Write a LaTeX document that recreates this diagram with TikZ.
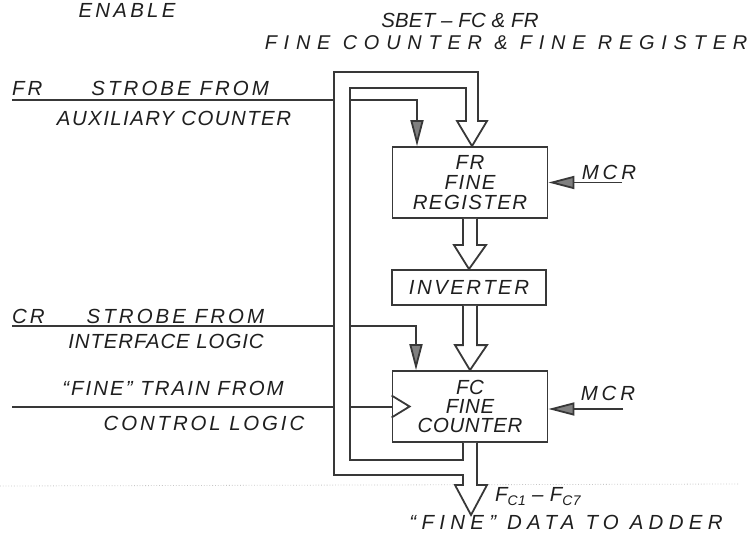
\documentclass[tikz,border=0pt]{standalone}
\usepackage{fontspec}
\setmainfont{Liberation Sans}
\usetikzlibrary{arrows.meta,calc}
\newcommand{\lowsub}[1]{{\fontsize{14}{14}\selectfont\raisebox{-4bp}{#1}}}
\newcommand{\hw}[1]{\itshape\fontsize{20.5}{22}\selectfont\addfontfeature{LetterSpace=#1}}
\tikzset{
  x=1bp, y=-1bp,
  ink/.style={draw=black!78, line width=1.8bp},
  box/.style={ink, fill=white, minimum width=155bp, minimum height=71bp, inner sep=0pt, align=center,
              font={\hw{7}\fontsize{20.5}{20}\selectfont}, text=black!88},
  sig/.style={ink, -{Triangle[width=13bp,length=26bp,fill=black!50]}},
  bus/.style={ink, fill=white},
  lbl/.style={text=black!88, font={\hw{12}}, inner sep=0pt},
}
\begin{document}
\begin{tikzpicture}
\fill[white] (0,0) rectangle (752,542);
\useasboundingbox (0,0) rectangle (752,542);

% boxes
\node[box] (fr) at (470,182.5) {FR\\FINE\\REGISTER};
\node[box, minimum width=154bp, minimum height=35bp, font={\hw{12}}] (inv) at (469,287.5) {INVERTER};
\node[box, font={\hw{3}\fontsize{20.5}{19.5}\selectfont}] (fc) at (470,406.5) {FC\\FINE\\COUNTER};

% free ends
\coordinate (frs) at (12,100);
\coordinate (crs) at (12,326);
\coordinate (trs) at (12,407);
\coordinate (m1) at (622,182.5);
\coordinate (m2) at (623,409);
\coordinate (adder) at (471,515);

% faint scan line
\draw[black!22, dotted, line width=0.8bp] (0,486) -- (740,484);

% strobes and train
\draw[sig] (frs) -| ($(fr.north)+(-53,0)$);
\draw[sig] (crs) -| ($(fc.north)+(-54,0)$);
\draw[ink] (trs) -- (trs -| fc.west);
\draw[ink] ($(fc.west)+(0,-11)$) -- ($(fc.west)+(18,0)$) -- ($(fc.west)+(0,11)$);

% MCR
\draw[sig] (m1) -- (m1 -| fr.east);
\draw[sig] (m2) -- (m2 -| fc.east);

% hollow arrows
\draw[bus] ($(fr.south)+(-7,0)$) |- ($(inv.north)+(-15,-24)$) -- (inv.north) -- ($(inv.north)+(17,-24)$) -| ($(fr.south)+(7,0)$);
\draw[bus] ($(inv.south)+(-6,0)$) |- ($(fc.north)+(-15,-25)$) -- (fc.north) -- ($(fc.north)+(17,-25)$) -| ($(inv.south)+(8,0)$);

% feedback / output channel
\draw[bus] ($(fc.south)+(-7,0)$) -- (463,460) -- (350,460) -- (350,88) -- (466,88) -- (466,121)
  -- (457,121) -- ($(fr.north)+(2,0)$) -- (487,121) -- (478,121) -- (478,72) -- (334,72)
  -- (334,475) -- (463,475) -- (463,485) -- (455,485) -- (adder) -- (487,485) -- (477,485)
  -- ($(fc.south)+(7,0)$);

% labels
\node[lbl, font={\hw{16}}] (en) at (127,10) {ENABLE};
\node[lbl, font={\hw{1}}] (t1) at (460,20) {SBET – FC \& FR};
\node[lbl, font={\hw{34}\fontsize{20}{22}\selectfont}] (t2) at (506,43) {FINE COUNTER \& FINE REGISTER};
\node[lbl, anchor=west, font={\hw{15}}] (l1) at (12,88) {FR\hspace{49bp}STROBE FROM};
\node[lbl, font={\hw{7}}] (l2) at (174,118) {AUXILIARY COUNTER};
\node[lbl, anchor=west, font={\hw{15}}] (l3) at (12,316) {CR\hspace{42bp}STROBE FROM};
\node[lbl, font={\hw{4.5}}] (l4) at (166,341) {INTERFACE LOGIC};
\node[lbl, font={\hw{10}}] (l5) at (173,388) {“FINE” TRAIN FROM};
\node[lbl, font={\hw{14}}] (l6) at (204,423) {CONTROL LOGIC};
\node[lbl, font={\hw{19}}] (mcr1) at (609,172) {MCR};
\node[lbl, font={\hw{19}}] (mcr2) at (608,393) {MCR};
\node[lbl, anchor=west, font={\hw{3}}] (fcs) at (495,497) {F\lowsub{C1} – F\lowsub{C7}};
\node[lbl, font={\hw{26}}] (dta) at (566,522) {“FINE” DATA TO ADDER};
\end{tikzpicture}
\end{document}
